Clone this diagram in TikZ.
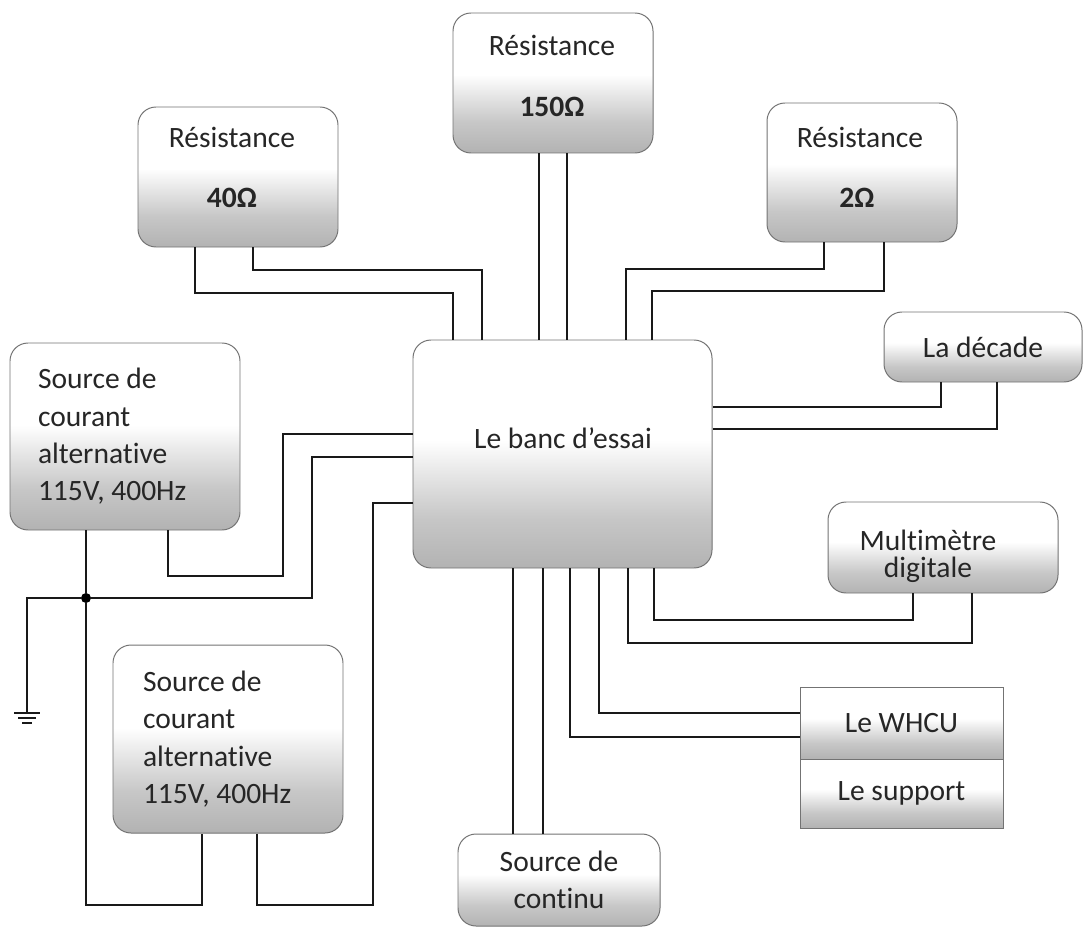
\documentclass[tikz,border=0pt]{standalone}
\usepackage{fontspec}
\setmainfont{Carlito}[Ligatures={NoCommon,NoContextual}]
\usetikzlibrary{calc}
\pgfdeclareverticalshading{boxshade}{100bp}{color(0bp)=(black!30); color(25bp)=(black!30); color(36bp)=(black!22); color(47bp)=(black!8); color(53bp)=(white); color(100bp)=(white)}
\begin{document}
\begin{tikzpicture}[x=0.025cm,y=-0.025cm,
  bx/.style 2 args={draw=black!55, line width=0.7pt, rounded corners=0.45cm, shade, shading=boxshade,
    minimum width=#1*0.025cm, minimum height=#2*0.025cm, inner sep=0pt,
    font=\fontsize{21}{26.5}\selectfont, text=black!85},
  rbx/.style 2 args={bx={#1}{#2}, rounded corners=0pt},
  lbl/.style={inner sep=0pt, font=\fontsize{21}{26.5}\selectfont, text=black!85},
  wire/.style={draw=black!90, line width=1.1pt}]
\useasboundingbox (0,0) rectangle (1083,926);

% boxes
\node[bx={200}{140}] (r150) at (553,83) {};
\node[lbl] (r150a) at (552,45) {Résistance};
\node[lbl] (r150b) at (552,107) {\textbf{150Ω}};

\node[bx={200}{140}] (r40) at (238,177) {};
\node[lbl] (r40a) at (232,137) {Résistance};
\node[lbl] (r40b) at (232,198) {\textbf{40Ω}};

\node[bx={190}{139}] (r2) at (862,172.5) {};
\node[lbl] (r2a) at (860,137) {Résistance};
\node[lbl] (r2b) at (857,198) {\textbf{2Ω}};

\node[bx={198}{70}] (dec) at (983,347) {La décade};

\node[bx={230}{187}, align=flush left, text width=174*0.025cm] (src1) at (125,436.5)
  {Source de\\courant\\alternative\\115V, 400Hz};
\node[bx={230}{188}, align=flush left, text width=170*0.025cm] (src2) at (228,739)
  {Source de\\courant\\alternative\\115V, 400Hz};

\node[bx={299}{228}] (banc) at (562.5,454) {};
\node[lbl] (banct) at (563,438) {Le banc d'essai};

\node[bx={230}{91}] (mm) at (943,547.5) {};
\node[lbl, align=center, font=\fontsize{21}{19}\selectfont] (mmt) at (928,556) {Multimètre\\digitale};

\node[rbx={203}{72}] (whcu) at (901.5,723) {Le WHCU};
\node[rbx={203}{69}] (sup) at (901.5,793.5) {Le support};

\node[bx={202}{92}, align=center] (cont) at (559,880) {Source de\\continu};

% junction and ground
\node[circle, fill=black, inner sep=0pt, minimum size=10*0.025cm] (j) at (86,598) {};
\coordinate (gnd) at (27,713);

% wires top
\draw[wire] (195,0 |- r40.south) |- (453,293) -- (453,0 |- banc.north);
\draw[wire] (253,0 |- r40.south) |- (482,270) -- (482,0 |- banc.north);
\draw[wire] (539,0 |- r150.south) -- (539,0 |- banc.north);
\draw[wire] (567,0 |- r150.south) -- (567,0 |- banc.north);
\draw[wire] (626,0 |- banc.north) |- (824,269) -- (824,0 |- r2.south);
\draw[wire] (652,0 |- banc.north) |- (884,291) -- (884,0 |- r2.south);

% wires right
\draw[wire] (941,0 |- dec.south) |- (banc.east |- 0,407);
\draw[wire] (997,0 |- dec.south) |- (banc.east |- 0,429);
\draw[wire] (913,0 |- mm.south) |- (654,620) -- (654,0 |- banc.south);
\draw[wire] (972,0 |- mm.south) |- (628,643) -- (628,0 |- banc.south);
\draw[wire] (whcu.west |- 0,713) -| (599,0 |- banc.south);
\draw[wire] (whcu.west |- 0,737) -| (570,0 |- banc.south);

% wires bottom
\draw[wire] (513,0 |- banc.south) -- (513,0 |- cont.north);
\draw[wire] (543,0 |- banc.south) -- (543,0 |- cont.north);

% wires left
\draw[wire] (168,0 |- src1.south) |- (283,576) -- (283,434) -- (banc.west |- 0,434);
\draw[wire] (banc.west |- 0,457) -| (312,598) -- (j) -- (27,598) -- (gnd);
\draw[wire] (86,0 |- src1.south) -- (j) -- (86,905) -| (202,0 |- src2.south);
\draw[wire] (257,0 |- src2.south) |- (373,905) -- (373,503) -- (banc.west |- 0,503);

% ground symbol
\draw[wire] ($(gnd)+(-13,0)$) -- ($(gnd)+(13,0)$);
\draw[wire] ($(gnd)+(-9,5)$) -- ($(gnd)+(9,5)$);
\draw[wire] ($(gnd)+(-5,10)$) -- ($(gnd)+(5,10)$);
\end{tikzpicture}
\end{document}
